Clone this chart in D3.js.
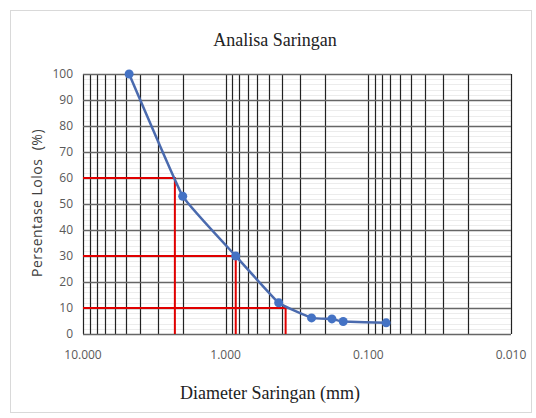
<!DOCTYPE html>
<html>
<head>
<meta charset="utf-8">
<script src="https://cdn.jsdelivr.net/npm/d3@7"></script>
<style>
  body { margin: 0; background: #fff; }
  svg { display: block; }
</style>
</head>
<body>
<div id="chart"></div>
<script>
// sieve data (mm, % passing)
const diameters = [4.75, 2.0, 0.85, 0.425, 0.25, 0.18, 0.15, 0.075];
const passing = [100, 53, 30, 12, 6.2, 5.8, 4.8, 4.3];
// D60, D30, D10 guide lines
const guideY = [60, 30, 10];
const guideX = [2.27, 0.85, 0.38];
const xTicks = [10, 1, 0.1, 0.01];
const yTicks = d3.range(0, 101, 10);

const width = 536, height = 418;
const m = { left: 83, right: 536 - 511, top: 74, bottom: 418 - 334 };

const svg = d3.select("#chart").append("svg")
  .attr("width", width).attr("height", height);

svg.append("rect").attr("x", 10.5).attr("y", 10.5).attr("width", 521).attr("height", 402)
  .attr("fill", "#fff").attr("stroke", "#d9d9d9");

const x = d3.scaleLog().domain([10, 0.01]).range([m.left, width - m.right]);
const y = d3.scaleLinear().domain([0, 100]).range([height - m.bottom, m.top]);

// minor horizontal grid
svg.append("g").selectAll("line").data(d3.range(0, 101, 2).filter(d => d % 10))
  .join("line")
  .attr("x1", x(10)).attr("x2", x(0.01))
  .attr("y1", d => Math.round(y(d)) + 0.5).attr("y2", d => Math.round(y(d)) + 0.5)
  .attr("stroke", "#ececec");

// vertical log grid
const vLines = [];
[1, 0.1, 0.01].forEach(dec => d3.range(1, 10).forEach(k => vLines.push(dec * k)));
vLines.push(10);
svg.append("g").selectAll("line").data(vLines).join("line")
  .attr("x1", d => Math.round(x(d)) + 0.5).attr("x2", d => Math.round(x(d)) + 0.5)
  .attr("y1", y(0)).attr("y2", y(100))
  .attr("stroke", "#222").attr("stroke-width", 1.2);

// major horizontal grid
svg.append("g").selectAll("line").data(yTicks).join("line")
  .attr("x1", x(10)).attr("x2", x(0.01))
  .attr("y1", d => Math.round(y(d)) + 0.5).attr("y2", d => Math.round(y(d)) + 0.5)
  .attr("stroke", "#666").attr("stroke-width", 1.5);

// red guide lines
const guides = svg.append("g").attr("stroke", "#e00000").attr("stroke-width", 2).attr("fill", "none");
guideY.forEach((gy, i) => {
  guides.append("path")
    .attr("d", `M${x(10)},${y(gy)}H${x(guideX[i])}V${y(0)}`);
});

// curve
const pts = diameters.map((d, i) => [x(d), y(passing[i])]);
svg.append("path").datum(pts)
  .attr("fill", "none").attr("stroke", "#4a6aae").attr("stroke-width", 2.5)
  .attr("d", d3.line().curve(d3.curveCardinal.tension(0.7)));

svg.append("g").selectAll("circle").data(pts).join("circle")
  .attr("cx", d => d[0]).attr("cy", d => d[1]).attr("r", 4.5)
  .attr("fill", "#4472c4");

// axis labels
svg.append("g").selectAll("text").data(yTicks).join("text")
  .attr("x", 73).attr("y", d => y(d)).attr("dy", "0.35em")
  .attr("text-anchor", "end").attr("font-family", "Open Sans, sans-serif")
  .attr("font-size", 12).attr("fill", "#595959").text(d => d);

svg.append("g").selectAll("text").data(xTicks).join("text")
  .attr("x", d => x(d)).attr("y", 359)
  .attr("text-anchor", "middle").attr("font-family", "Open Sans, sans-serif")
  .attr("font-size", 12).attr("fill", "#595959").text(d => d3.format(".3f")(d));

svg.append("text").attr("x", 275).attr("y", 46)
  .attr("text-anchor", "middle").attr("font-family", "Liberation Serif, serif")
  .attr("font-size", 18).attr("fill", "#222").text("Analisa Saringan");

svg.append("text").attr("x", 270).attr("y", 399)
  .attr("text-anchor", "middle").attr("font-family", "Liberation Serif, serif")
  .attr("font-size", 18).attr("fill", "#222").text("Diameter Saringan (mm)");

svg.append("text").attr("transform", "translate(42,203) rotate(-90)")
  .attr("text-anchor", "middle").attr("font-family", "Open Sans, sans-serif")
  .attr("font-size", 14).attr("font-weight", 500).attr("fill", "#404040")
  .attr("letter-spacing", 0.5)
  .attr("xml:space", "preserve").text("Persentase Lolos  (%)");
</script>
</body>
</html>
